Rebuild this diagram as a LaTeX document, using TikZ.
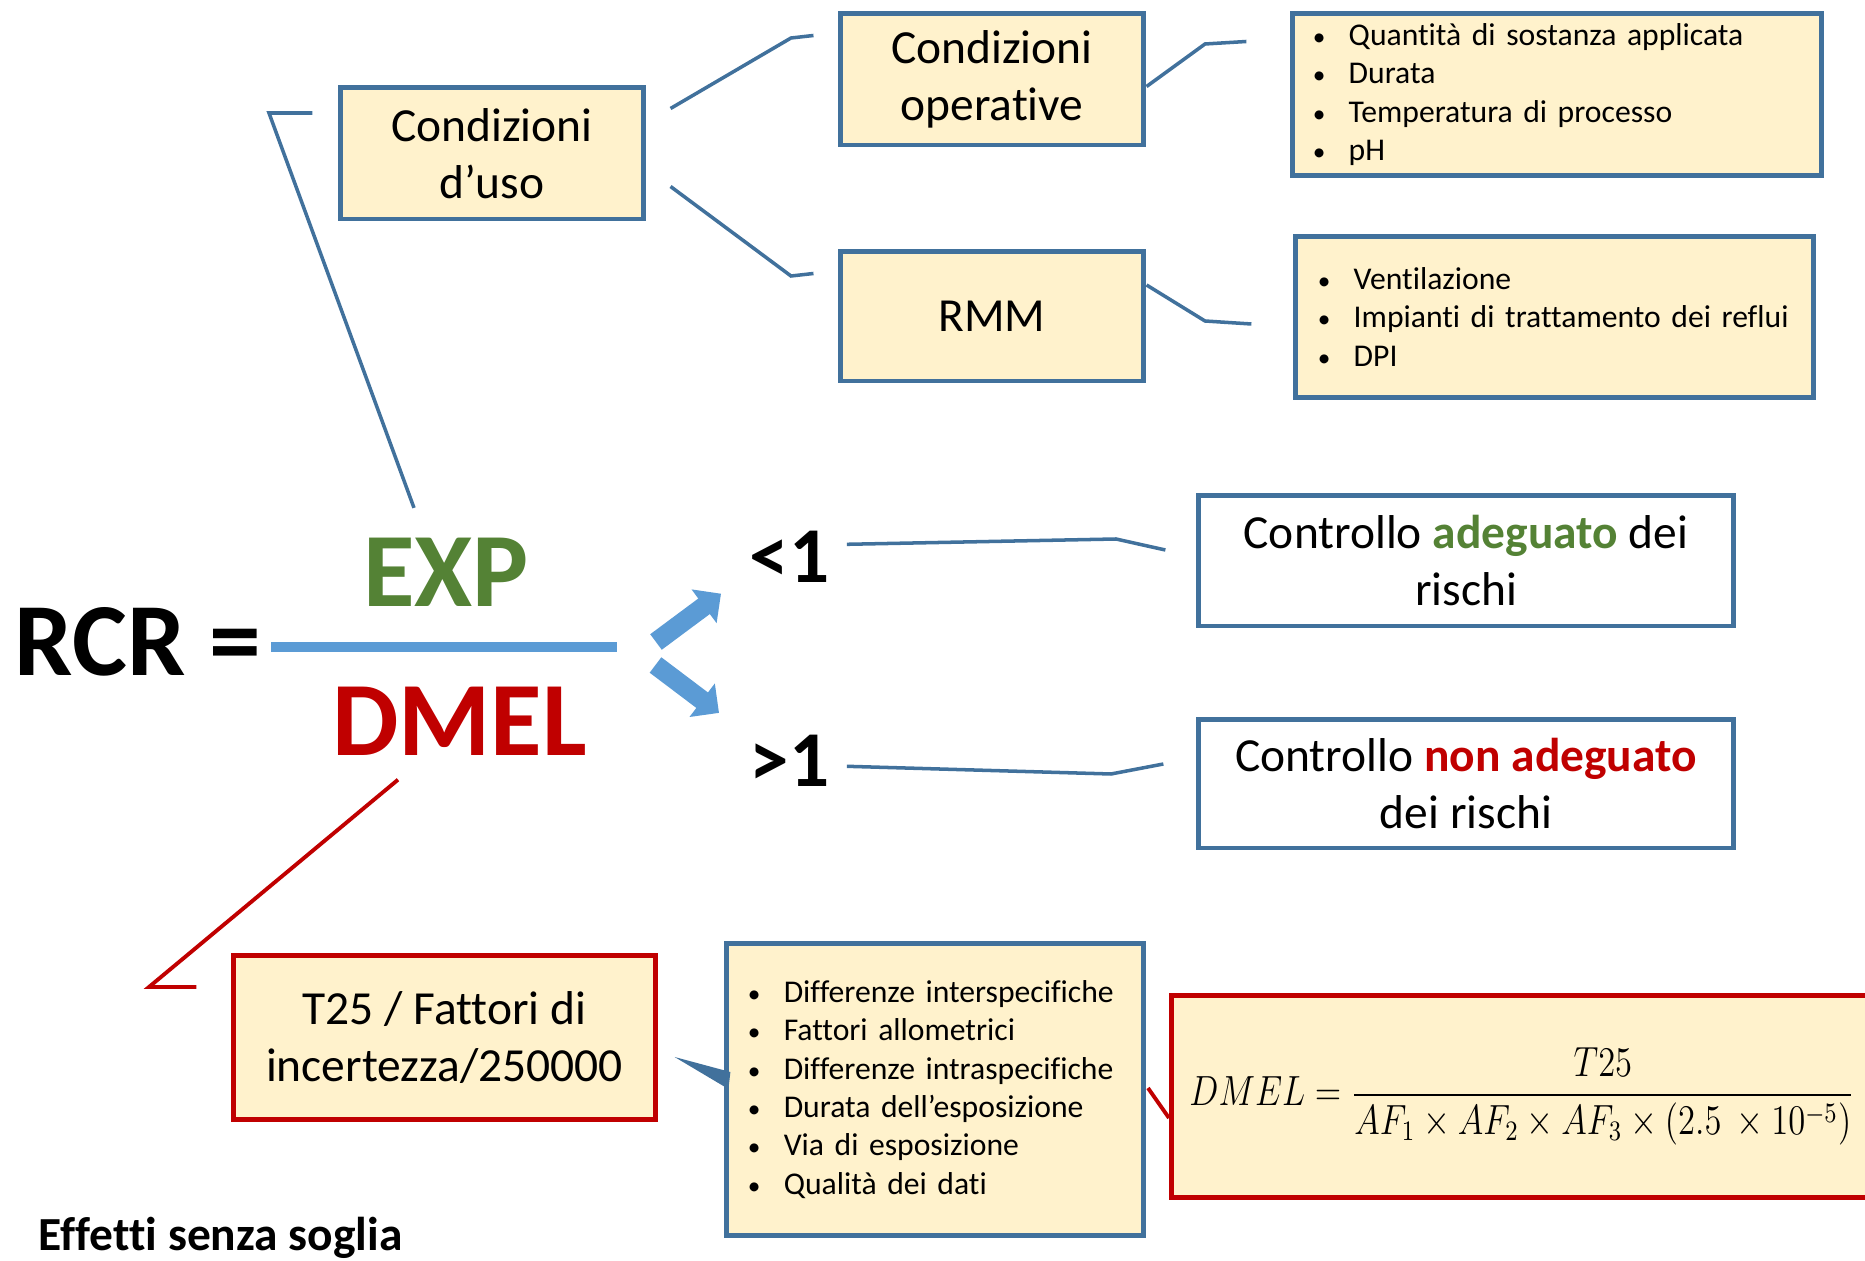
\documentclass[tikz,border=0pt]{standalone}
\usepackage{amsmath}
\usepackage{graphicx}
\usepackage{fontspec}
\setmainfont{Carlito}[Ligatures=NoCommon]
\usepackage{tikz}
\usepackage{xcolor}
\usetikzlibrary{arrows.meta}

\definecolor{rcblue}{HTML}{41719C}
\definecolor{rcfill}{HTML}{FFF2CC}
\definecolor{rcred}{HTML}{C00000}
\definecolor{rcgreen}{HTML}{548235}
\definecolor{rcarrow}{HTML}{5B9BD5}

\newcommand{\bitem}{\makebox[10.2pt][l]{\scalebox{0.8}{\textbullet}}}

\begin{document}
\begin{tikzpicture}[x=0.01cm, y=-0.01cm,
  box/.style={draw=rcblue, line width=1.4pt, fill=rcfill, align=center, inner sep=0pt,
    font=\fontsize{13.5}{16.2}\selectfont},
  redbox/.style={box, draw=rcred},
  listbox/.style={box, align=left, font=\fontsize{9}{10.9}\selectfont},
  bigword/.style={inner sep=0pt, font=\fontsize{30}{36}\selectfont\bfseries},
  link/.style={draw=rcblue, line width=1pt},
  redlink/.style={draw=rcred, line width=1.1pt},
  blockarrow/.style={draw=rcarrow, line width=5.5pt, -{Triangle[length=6pt,width=11.6pt]}}]
\useasboundingbox (0,0) rectangle (1865,1261);

% ratio
\node[bigword, font=\fontsize{29.5}{34}\selectfont\bfseries, anchor=base west] (rcr) at (14,676) {RCR =};
\node[bigword, text=rcgreen, anchor=base] (exp) at (446,607) {EXP};
\node[bigword, text=rcred, anchor=base] (dmel) at (459.5,756) {DMEL};
\coordinate (fracl) at (271,647);
\coordinate (fracr) at (617,647);
\draw[rcarrow, line width=2.85pt] (fracl) -- (fracr);
\node[inner sep=0pt, font=\fontsize{22.5}{27}\selectfont\bfseries, anchor=base west] (lt) at (749,583) {<1};
\node[inner sep=0pt, font=\fontsize{22.5}{27}\selectfont\bfseries, anchor=base west] (gt) at (749,787) {>1};
\draw[blockarrow] ([shift={(39,-5)}]fracr) -- ([shift={(-28,10)}]lt.south west);
\draw[blockarrow] ([shift={(38.5,18)}]fracr) -- ([shift={(-30,-22)}]gt.north west);

% conditions of use
\node[box, minimum width=3.02cm, minimum height=1.31cm] (uso) at (492,153.5) {Condizioni\\d’uso};
\node[box, minimum width=3.02cm, minimum height=1.31cm] (oper) at (992,79.5) {Condizioni\\operative};
\node[box, minimum width=3.02cm, minimum height=1.29cm] (rmm) at (992,316.5) {RMM};
\node[listbox, text width=4.88cm, inner xsep=0.2cm, minimum height=1.61cm] (operlist) at (1557,94.5)
  {\bitem Quantità di sostanza applicata\\\bitem Durata\\\bitem Temperatura di processo\\\bitem pH};
\node[listbox, text width=4.73cm, inner xsep=0.22cm, minimum height=1.6cm] (rmmlist) at (1554.5,317)
  {\bitem Ventilazione\\\bitem Impianti di trattamento dei reflui\\\bitem DPI};
\draw[link] ([shift={(-32,-30)}]exp.north) -- (269,113) -- ([shift={(-26,-40.5)}]uso.west);
\draw[link] ([shift={(25,23)}]uso.north east) -- (791,38) -- ([shift={(-25,24)}]oper.north west);
\draw[link] ([shift={(25,-35)}]uso.south east) -- (791,276) -- ([shift={(-25,24)}]rmm.north west);
\draw[link] ([shift={(1,7)}]oper.east) -- (1205,44) -- ([shift={(-44,30)}]operlist.north west);
\draw[link] ([shift={(1,-31.5)}]rmm.east) -- (1205,321) -- ([shift={(-42,7)}]rmmlist.west);

% outcome
\node[box, fill=white, minimum width=5.34cm, minimum height=1.30cm] (ok) at (1466,561)
  {Controllo \textbf{\textcolor{rcgreen}{adeguato}} dei\\rischi};
\node[box, fill=white, minimum width=5.34cm, minimum height=1.28cm] (notok) at (1466,784)
  {Controllo \textbf{\textcolor{rcred}{non adeguato}}\\dei rischi};
\draw[link] ([shift={(17,-13)}]lt.east) -- (1116,539) -- ([shift={(-31,-11)}]ok.west);
\draw[link] ([shift={(17,5)}]gt.east) -- (1111,774) -- ([shift={(-33,-20)}]notok.west);

% DMEL
\node[redbox, minimum width=4.21cm, minimum height=1.63cm] (t25) at (444.5,1037.5) {T25 / Fattori di\\incertezza/250000};
\node[listbox, text width=3.74cm, inner xsep=0.21cm, minimum height=2.91cm] (diff) at (935,1089.5)
  {\bitem Differenze interspecifiche\\\bitem Fattori allometrici\\\bitem Differenze intraspecifiche\\\bitem Durata dell’esposizione\\\bitem Via di esposizione\\\bitem Qualità dei dati};
\node[redbox, anchor=west, inner xsep=0.18cm, minimum height=2.01cm, font=\fontsize{11.5}{13}\selectfont] (formula) at (1169,1096.5)
  {\makebox[6.84cm][l]{\resizebox{6.65cm}{\height}{$\displaystyle DMEL=\frac{T25}{AF_1\times AF_2\times AF_3\times(2.5\ \times10^{-5})}$}}};
\draw[redlink] ([shift={(-61.5,23)}]dmel.south) -- (149,987) -- ([shift={(-35,-50.5)}]t25.west);
\fill[rcblue] ([shift={(17,19.5)}]t25.east) -- ([shift={(6,-17.5)}]diff.west) -- ([shift={(4,-0.5)}]diff.west) -- cycle;
\draw[redlink] ([shift={(-21,-8.5)}]formula.west) -- ([shift={(0,21.5)}]formula.west);

\node[inner sep=0pt, font=\fontsize{13.5}{16}\selectfont\bfseries, anchor=base west] (note) at (38,1251) {Effetti senza soglia};
\end{tikzpicture}
\end{document}
